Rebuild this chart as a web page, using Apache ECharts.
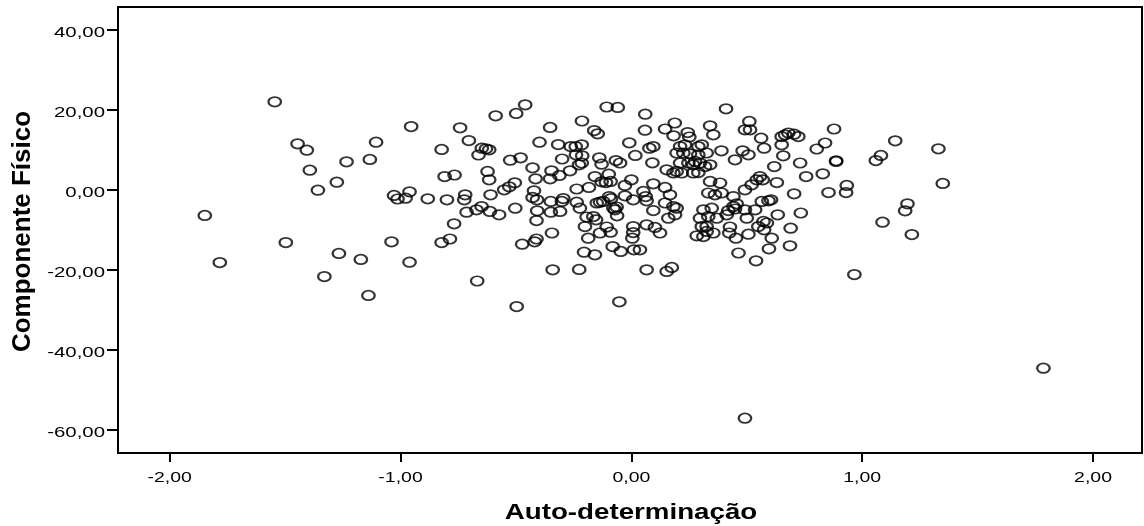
<!DOCTYPE html>
<html><head><meta charset="utf-8">
<script src="https://cdn.jsdelivr.net/npm/echarts@6/dist/echarts.min.js"></script>
<style>html,body{margin:0;padding:0;background:#fff}#c{width:1144px;height:526px}</style>
</head><body><div id="c"></div>
<script>
const xTicks = [-2, -1, 0, 1, 2];
const yTicks = [-60, -40, -20, 0, 20, 40];
const xTitle = 'Auto-determinação';
const yTitle = 'Componente Físico';
// Auto-determinação values
const autoDet = [
-1.848,-1.783,-1.545,-1.497,-1.446,-1.406,-1.393,-1.358,-1.330,-1.276,-1.267,-1.234,-1.172,-1.139,-1.133,-1.106,-1.039,-1.028,-1.013,-0.978,-0.961,-0.961,-0.954,
-0.460,-0.499,-0.588,-0.107,-0.059,0.060,-0.742,-0.352,-0.214,-0.161,-0.146,0.059,-0.704,-0.822,-0.648,-0.630,-0.616,-0.662,-0.398,-0.317,-0.263,-0.241,-0.215,-0.009,0.078,0.017,0.091,
-0.525,-0.480,-0.300,-0.240,-0.213,-0.139,-0.129,-0.067,-0.049,-0.227,-0.215,-0.428,-0.346,-0.266,-0.623,-0.809,-0.766,-0.616,-0.415,-0.352,-0.312,-0.158,-0.129,-0.110,-0.090,-0.098,0.000,0.095,-0.028,
-0.551,-0.529,-0.505,-0.882,-0.799,-0.720,-0.724,-0.610,-0.422,-0.428,-0.409,-0.349,-0.301,-0.295,-0.237,-0.184,-0.237,-0.223,-0.150,-0.136,-0.122,-0.096,-0.088,-0.078,-0.064,-0.062,-0.028,0.008,0.052,0.062,0.066,0.095,
-0.714,-0.671,-0.649,-0.613,-0.573,-0.503,-0.408,-0.349,-0.309,-0.768,-0.411,-0.194,-0.165,-0.153,-0.107,0.008,0.066,0.102,
-0.822,-0.786,-0.668,-0.497,-0.473,-0.419,-0.411,-0.344,-0.341,-0.226,-0.201,-0.187,-0.205,-0.158,-0.136,-0.090,-0.081,-0.046,-0.071,-0.052,0.011,0.004,0.008,0.066,0.124,0.037,
0.410,0.188,0.146,0.183,0.244,0.251,0.341,0.355,0.511,0.492,0.514,0.562,0.575,0.651,0.666,0.680,0.705,0.723,0.651,0.658,0.878,0.839,0.803,0.731,0.887,0.887,0.757,0.829,0.619,0.854,0.933,0.930,0.705,0.734,1.088,1.059,1.081,1.143,
0.390,0.449,0.482,0.507,0.557,0.569,0.543,0.630,0.492,0.521,0.565,0.594,0.605,0.442,0.456,0.384,0.391,0.362,0.333,0.341,0.095,0.146,0.167,0.146,0.182,0.196,0.160,0.189,
0.312,0.348,0.333,0.297,0.370,0.420,0.449,0.492,0.500,0.536,0.572,0.587,0.634,0.690,0.427,0.326,0.966,0.492,0.687,0.608,0.596,0.540,0.464,0.575,0.550,0.507,0.453,0.424,0.413,0.442,
0.283,0.312,0.326,0.355,0.305,0.153,0.175,1.330,1.349,1.196,1.186,1.785,1.215,
0.211,0.232,0.290,0.305,0.196,0.225,0.254,0.290,0.326,0.211,0.247,0.276,0.268,0.297,0.196,0.218,0.268,0.290,0.319,0.341,0.153,0.182
];
// Componente Físico values
const compFisico = [
-6.4,-18.2,22.0,-13.2,11.5,9.9,4.9,-0.1,-21.7,1.9,-15.9,7.0,-17.4,-26.4,7.6,11.9,-13.0,-1.4,-2.3,-2.1,-0.5,-18.1,15.8,
21.25,19.1,18.5,20.7,20.6,18.9,15.5,15.6,17.2,14.8,14.0,14.9,12.3,10.1,10.4,10.25,10.0,8.7,11.9,11.3,10.8,10.8,11.25,11.75,10.4,8.6,6.75,
7.4,8.0,7.7,8.75,8.5,8.0,6.4,7.3,6.7,6.25,6.7,5.5,4.75,4.75,4.6,3.3,3.7,2.5,2.75,2.75,3.6,3.3,2.0,1.8,2.1,3.9,2.5,1.5,1.1,
0.0,0.75,1.75,-2.25,-2.5,-1.25,-2.5,-1.25,-0.25,-1.9,-2.5,-2.9,-2.9,-2.2,0.2,0.6,-3.1,-4.6,-3.3,-3.1,-2.9,-1.7,-2.2,-4.6,-4.3,-6.5,-1.5,-2.5,-0.4,-1.7,-2.75,-5.2,
-5.6,-5.0,-4.2,-5.4,-6.25,-4.6,-5.25,-5.6,-5.4,-8.5,-7.7,-6.8,-6.7,-7.5,-9.3,-9.2,-8.75,-9.4,
-13.2,-12.3,-22.8,-29.2,-13.6,-13.0,-12.3,-10.8,-20.0,-19.9,-9.2,-12.1,-15.6,-16.25,-10.8,-10.6,-14.2,-15.4,-5.0,-28.0,-15.0,-12.1,-10.7,-20.0,-10.8,-15.0,
20.25,16.7,15.2,13.5,14.3,13.2,16.0,13.75,17.1,15.0,15.0,12.9,10.4,13.3,13.75,14.2,13.9,13.3,11.25,8.5,15.2,11.7,10.2,6.7,7.25,7.1,3.3,4.0,5.8,-0.7,1.1,-0.7,-1.0,-5.8,-8.1,7.3,8.6,12.25,
9.75,7.5,9.75,8.75,3.3,2.5,2.5,1.8,0.0,1.25,-2.9,-2.75,-2.5,-1.7,-3.5,1.7,-0.8,-1.25,-0.8,2.1,10.8,0.6,-1.25,-3.3,-4.2,-4.6,-7.1,-6.25,
-5.0,-4.6,-6.7,-7.1,-7.1,-5.2,-4.8,-5.0,-7.1,-5.0,-7.9,-8.3,-6.25,-9.6,-9.3,-9.2,-21.2,-57.1,-14.0,-12.1,-14.75,-17.75,-15.8,-10.0,-9.2,-11.1,-12.1,-10.8,-6.25,-4.2,
-11.5,-11.7,-10.4,-10.8,-9.2,-20.4,-19.4,10.25,1.6,-3.5,-5.25,-44.6,-11.2,
10.8,11.25,10.8,11.25,9.2,9.2,9.0,8.75,9.2,6.7,6.7,7.1,6.25,6.7,4.6,4.2,4.2,4.3,5.8,6.25,5.0,4.2
];
const pts = autoDet.map((x, i) => [x, compFisico[i]]);
const fmt = v => v.toFixed(2).replace('.', ',');
const FAM = '"Liberation Sans", Arial, sans-serif';
const chart = echarts.init(document.getElementById('c'), null, {renderer: 'canvas'});
chart.setOption({
  animation: false,
  backgroundColor: '#fff',
  grid: {left: 118, right: 2, top: 7, bottom: 73, containLabel: false, outerBoundsMode: 'none',
         show: true, borderColor: '#000', borderWidth: 2, backgroundColor: '#fff'},
  xAxis: {
    type: 'value', min: -2.224, max: 2.212,
    axisLine: {show: true, onZero: false, lineStyle: {color: '#000', width: 2}},
    axisTick: {show: true, length: 9, lineStyle: {color: '#000', width: 2}, customValues: xTicks},
    axisLabel: {show: false, customValues: xTicks},
    splitLine: {show: false}
  },
  yAxis: {
    type: 'value', min: -65.8, max: 45.7,
    axisLine: {show: true, onZero: false, lineStyle: {color: '#000', width: 2}},
    axisTick: {show: true, length: 11, lineStyle: {color: '#000', width: 2}, customValues: yTicks},
    axisLabel: {show: false, customValues: yTicks},
    splitLine: {show: false}
  },
  series: [{
    type: 'scatter', data: pts, symbol: 'circle', symbolSize: [12.5, 9.5],
    itemStyle: {color: 'rgba(0,0,0,0)', borderColor: '#000', borderWidth: 2}
  }]
});
// text labels placed through the axes' own scales
const g = [];
xTicks.forEach(v => {
  const px = chart.convertToPixel({xAxisIndex: 0}, v);
  g.push({type: 'text', x: px, y: 478, scaleX: 1.3, silent: true,
    style: {text: fmt(v), font: '15px ' + FAM, fill: '#000', textAlign: 'center', textVerticalAlign: 'middle'}});
});
yTicks.forEach(v => {
  const py = chart.convertToPixel({yAxisIndex: 0}, v);
  g.push({type: 'text', x: 105, y: py + 3, scaleX: 1.36, silent: true,
    style: {text: fmt(v), font: '15px ' + FAM, fill: '#000', textAlign: 'right', textVerticalAlign: 'middle'}});
});
g.push({type: 'text', x: 631, y: 513, scaleX: 1.26, silent: true,
  style: {text: xTitle, font: 'bold 22px ' + FAM, fill: '#000', textAlign: 'center', textVerticalAlign: 'middle'}});
g.push({type: 'text', x: 22.5, y: 231.5, rotation: Math.PI / 2, silent: true,
  style: {text: yTitle, font: 'bold 26px ' + FAM, fill: '#000', textAlign: 'center', textVerticalAlign: 'middle'}});
chart.setOption({graphic: g});
</script></body></html>
